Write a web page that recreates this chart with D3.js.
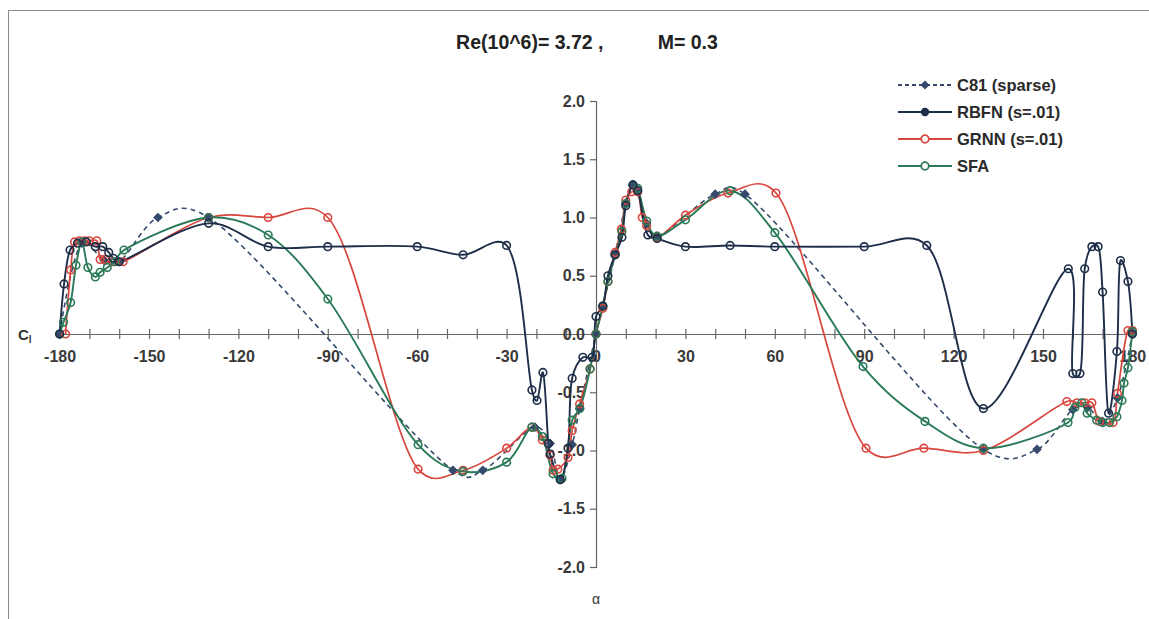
<!DOCTYPE html>
<html><head><meta charset="utf-8">
<script src="https://cdn.jsdelivr.net/npm/d3@7"></script>
<style>
html,body{margin:0;padding:0;background:#fff;}
svg{display:block;font-family:"Liberation Sans",Arial,sans-serif;}
</style></head>
<body>
<svg id="chart" width="1149" height="619"></svg>
<script>
// ---------------- data ----------------
const title = "Re(10^6)= 3.72 ,          M= 0.3";
const seriesNames = ["C81 (sparse)", "RBFN (s=.01)", "GRNN (s=.01)", "SFA"];
const xTickValues = d3.range(-180, 181, 10);
const xLabelValues = d3.range(-180, 181, 30);
const yTickValues = [-2.0, -1.5, -1.0, -0.5, 0.0, 0.5, 1.0, 1.5, 2.0];

const c81Alpha = [-180,-172.5,-165,-160,-147,-130,-48,-38,-20.5,-15.4,-12,-8,-5.5,0,2.3,6.4,10,12.4,14,17,20.5,40,50,130,148,160,165,170,175,180];
const c81Cl    = [0,0.78,0.63,0.62,1.0,1.0,-1.17,-1.17,-0.8,-0.94,-1.25,-0.95,-0.64,0,0.24,0.68,1.12,1.28,1.23,0.95,0.84,1.2,1.2,-0.99,-0.99,-0.65,-0.63,-0.75,-0.55,0];

const rbfnAlpha = [-180,-178.5,-176.5,-174,-171,-168,-165.5,-163.5,-162,-160,-130,-110,-90,-60,-44.6,-30,-21.5,-19.8,-17.8,-16,-15.4,-12,-9.4,-8,-4.4,-1.3,0,2.3,4,6.4,8.7,10,12.4,14,17.4,20.5,30,45,60,90,111,130,158.5,160,162.4,164,166.4,168.5,170,172,174.8,176,178.5,180];
const rbfnCl    = [0,0.43,0.72,0.78,0.79,0.75,0.75,0.7,0.65,0.62,0.95,0.75,0.75,0.75,0.68,0.76,-0.48,-0.57,-0.33,-0.94,-1.03,-1.25,-0.98,-0.38,-0.2,-0.2,0.15,0.24,0.5,0.68,0.83,1.1,1.28,1.23,0.85,0.82,0.75,0.76,0.75,0.75,0.76,-0.64,0.56,-0.34,-0.34,0.56,0.75,0.75,0.36,-0.68,-0.15,0.63,0.45,0];

const grnnAlpha = [-178,-176.3,-175,-173.3,-171.6,-170,-167.5,-166.4,-164.8,-162,-158.7,-130,-110,-90,-59.7,-44.6,-30,-21.5,-18,-15.4,-14.4,-12.8,-9.4,-8,-5.5,-2,0,2.3,4,6.4,8.5,10,12,14,15.5,17,20.5,30,44.3,60.4,90.6,110,130,158,161.4,164,166.4,169,173.5,175,178.5,180];
const grnnCl    = [0,0.55,0.79,0.8,0.8,0.8,0.8,0.64,0.64,0.62,0.62,1.0,1.0,1.0,-1.16,-1.17,-0.98,-0.8,-0.91,-1.04,-1.17,-1.16,-1.06,-0.83,-0.6,-0.3,0,0.22,0.45,0.7,0.9,1.15,1.22,1.22,1.0,0.93,0.83,1.02,1.21,1.21,-0.98,-0.98,-1.0,-0.58,-0.59,-0.59,-0.59,-0.75,-0.76,-0.51,0.03,0.03];

const sfaAlpha = [-180,-178.7,-176.3,-174.5,-172.5,-170.5,-168,-166.4,-164,-161.4,-158.4,-130,-110,-90,-59.7,-44.6,-30,-21.5,-18,-14.4,-11.4,-8,-5.4,-2,0,2.3,4,6.4,8.7,10,12.4,14,17,20.5,30,45,60,89.6,110.4,130,158.4,160.7,163,164.8,168,170,172.3,174.8,176.5,177.2,178.5,180];
const sfaCl    = [0,0.1,0.27,0.59,0.79,0.57,0.49,0.53,0.57,0.62,0.72,1.0,0.85,0.3,-0.95,-1.18,-1.1,-0.8,-0.88,-1.2,-1.24,-0.74,-0.64,-0.3,0,0.24,0.45,0.68,0.88,1.12,1.28,1.25,0.97,0.84,0.98,1.23,0.87,-0.28,-0.75,-0.98,-0.76,-0.63,-0.59,-0.68,-0.74,-0.76,-0.76,-0.71,-0.57,-0.42,-0.29,0.02];

// ---------------- layout ----------------
const svg = d3.select("#chart");
const x = d3.scaleLinear().domain([-180, 180]).range([59.6, 1132.4]);
const y = d3.scaleLinear().domain([-2, 2]).range([567, 101]);

const colors = {c81:"#34496b", rbfn:"#1e2e48", grnn:"#d8463e", sfa:"#2b7a57"};

// frame
svg.append("rect").attr("x",8.5).attr("y",10.5).attr("width",1160).attr("height",640)
  .attr("fill","none").attr("stroke","#8a8a8a").attr("stroke-width",1);

// title
svg.append("text").attr("x",587).attr("y",49).attr("text-anchor","middle")
  .attr("font-size",19.5).attr("font-weight","bold").attr("fill","#222")
  .style("white-space","pre").attr("xml:space","preserve").text(title);

// x axis (horizontal at Cl = 0)
const axisColor = "#666";
const xAxis = d3.axisBottom(x).tickValues(xTickValues).tickSize(0).tickPadding(17)
  .tickFormat(d => (d % 30 === 0 ? String(d) : ""));
const gx = svg.append("g").attr("transform",`translate(0,${y(0)})`).call(xAxis);
gx.select(".domain").attr("stroke",axisColor).attr("stroke-width",1.2);
gx.selectAll(".tick text").attr("font-size",16).attr("font-weight","bold").attr("fill","#3a3a3a")
  .attr("font-family","Liberation Sans, Arial, sans-serif");
gx.selectAll(".tick").append("line").attr("y1",-5).attr("y2",5).attr("stroke",axisColor).attr("stroke-width",1.2);
gx.selectAll(".tick").filter(d=>d===0).select("line").remove();

// y axis (vertical at alpha = 0)
const yAxis = d3.axisLeft(y).tickValues(yTickValues).tickSize(6).tickPadding(5)
  .tickFormat(d3.format(".1f"));
const gy = svg.append("g").attr("transform",`translate(${x(0)},0)`).call(yAxis);
gy.select(".domain").attr("stroke",axisColor).attr("stroke-width",1.2);
gy.selectAll(".tick line").attr("stroke",axisColor).attr("stroke-width",1.2);
gy.selectAll(".tick text").attr("font-size",16).attr("font-weight","bold").attr("fill","#3a3a3a")
  .attr("font-family","Liberation Sans, Arial, sans-serif").text(d => d3.format(".1f")(d).replace("−","-"));

// axis titles
const cl = svg.append("text").attr("x",18).attr("y",340).attr("font-size",15).attr("font-weight","bold").attr("fill","#333");
cl.append("tspan").text("C");
cl.append("tspan").attr("font-size",10).attr("dy",3).text("l");
svg.append("text").attr("x",x(0)).attr("y",604).attr("text-anchor","middle").attr("font-size",14).attr("fill","#333").text("α");

// ---------------- series ----------------
const series = [
  {key:"c81", name:seriesNames[0], a:c81Alpha, c:c81Cl, dash:"5,4", marker:"diamond", width:1.6},
  {key:"grnn", name:seriesNames[2], a:grnnAlpha, c:grnnCl, dash:null, marker:"circle", width:1.7},
  {key:"sfa", name:seriesNames[3], a:sfaAlpha, c:sfaCl, dash:null, marker:"circle", width:1.9},
  {key:"rbfn", name:seriesNames[1], a:rbfnAlpha, c:rbfnCl, dash:null, marker:"circle", width:1.9}
];

const line = d3.line().x(d=>x(d[0])).y(d=>y(d[1])).curve(d3.curveCatmullRom.alpha(0.3));
const plot = svg.append("g");
series.forEach(s => {
  const pts = s.a.map((a,i)=>[a, s.c[i]]);
  plot.append("path").datum(pts).attr("d",line).attr("fill","none")
    .attr("stroke",colors[s.key]).attr("stroke-width",s.width)
    .attr("stroke-dasharray",s.dash);
});
series.forEach(s => {
  const pts = s.a.map((a,i)=>[a, s.c[i]]);
  const g = plot.append("g");
  if (s.marker === "circle") {
    g.selectAll("circle").data(pts).join("circle")
      .attr("cx",d=>x(d[0])).attr("cy",d=>y(d[1])).attr("r",3.8)
      .attr("fill","none").attr("stroke",colors[s.key]).attr("stroke-width",1.6);
  } else {
    g.selectAll("path").data(pts).join("path")
      .attr("d",d3.symbol().type(d3.symbolSquare).size(34))
      .attr("transform",d=>`translate(${x(d[0])},${y(d[1])}) rotate(45)`)
      .attr("fill",colors[s.key]).attr("stroke",colors[s.key]).attr("stroke-width",1);
  }
});

// ---------------- legend ----------------
const legendOrder = [
  {key:"c81", name:seriesNames[0], dash:"4,3", marker:"diamond"},
  {key:"rbfn", name:seriesNames[1], dash:null, marker:"dot"},
  {key:"grnn", name:seriesNames[2], dash:null, marker:"circle"},
  {key:"sfa", name:seriesNames[3], dash:null, marker:"circle"}
];
const lg = svg.append("g");
legendOrder.forEach((d,i) => {
  const yy = 85 + i*27;
  lg.append("line").attr("x1",898).attr("x2",952).attr("y1",yy).attr("y2",yy)
    .attr("stroke",colors[d.key]).attr("stroke-width",2).attr("stroke-dasharray",d.dash);
  if (d.marker === "diamond") {
    lg.append("path").attr("d",d3.symbol().type(d3.symbolSquare).size(40))
      .attr("transform",`translate(925,${yy}) rotate(45)`).attr("fill",colors[d.key]);
  } else if (d.marker === "dot") {
    lg.append("circle").attr("cx",925).attr("cy",yy).attr("r",4.2).attr("fill",colors[d.key]);
  } else {
    lg.append("circle").attr("cx",925).attr("cy",yy).attr("r",3.8).attr("fill","#fff")
      .attr("stroke",colors[d.key]).attr("stroke-width",1.8);
  }
  lg.append("text").attr("x",957).attr("y",yy+6).attr("font-size",16.5).attr("font-weight","bold")
    .attr("fill","#2a2a2a").text(d.name);
});
</script>
</body></html>
